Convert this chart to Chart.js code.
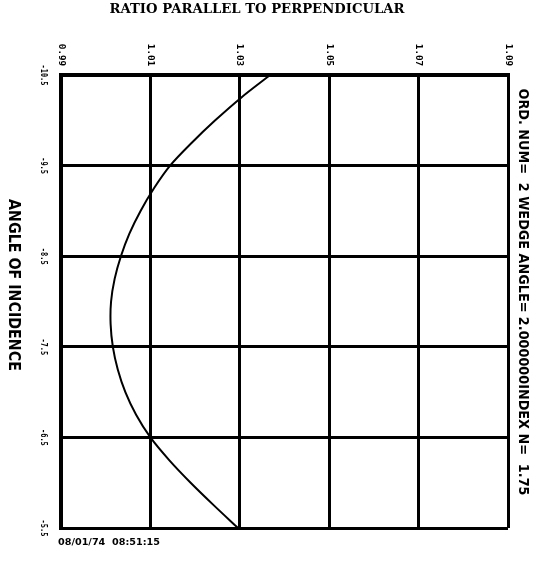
<!DOCTYPE html>
<html>
<head>
<meta charset="utf-8">
<script src="https://cdn.jsdelivr.net/npm/chart.js@4.4.0/dist/chart.umd.min.js"></script>
<style>
body { margin: 0; background: #fff; }
#wrap { width: 540px; height: 561px; }
</style>
</head>
<body>
<div id="wrap"><canvas id="plot" width="540" height="561"></canvas></div>
<script>
// values (angle of incidence vs ratio)
const angles = [-10.5, -10.25, -10.0, -9.75, -9.5, -9.25, -9.0, -8.75, -8.5, -8.25, -8.0,
                -7.75, -7.5, -7.25, -7.0, -6.75, -6.5, -6.25, -6.0, -5.75, -5.5];
const ratios = [1.0368, 1.0303, 1.0245, 1.0192, 1.0144, 1.0108, 1.0078, 1.0053, 1.0034, 1.0020, 1.0012,
                1.0011, 1.0016, 1.0027, 1.0044, 1.0068, 1.0100, 1.0142, 1.0190, 1.0242, 1.0296];
const ratioTicks = [0.99, 1.01, 1.03, 1.05, 1.07, 1.09];
const angleTicks = [-10.5, -9.5, -8.5, -7.5, -6.5, -5.5];

const titleText = 'RATIO PARALLEL TO PERPENDICULAR';
const yTitle = 'ANGLE OF INCIDENCE';
const noteText = 'ORD. NUM=  2 WEDGE ANGLE= 2.000000INDEX N=  1.75';
const stampText = '08/01/74  08:51:15';

function fitText(ctx, text, x, y, rot, len, font) {
    ctx.save();
    ctx.font = font;
    const w = ctx.measureText(text).width;
    ctx.translate(x, y);
    ctx.rotate(rot);
    ctx.scale(len / w, 1);
    ctx.textAlign = 'center';
    ctx.textBaseline = 'middle';
    ctx.fillStyle = '#000';
    ctx.fillText(text, 0, 0);
    ctx.restore();
}

const textPlugin = {
    id: 'texts',
    beforeDraw(chart) {
        const ctx = chart.ctx;
        ctx.save();
        ctx.fillStyle = '#fff';
        ctx.fillRect(0, 0, chart.width, chart.height);
        ctx.restore();
    },
    afterDraw(chart) {
        const ctx = chart.ctx;
        const xs = chart.scales.x;
        const ys = chart.scales.y;
        const quarter = Math.PI / 2;

        xs.ticks.forEach(t => {
            const label = t.value.toFixed(2);
            fitText(ctx, label, xs.getPixelForValue(t.value), 55, quarter, label.length * 5.6, 'bold 9px "DejaVu Sans Mono"');
        });
        ys.ticks.forEach(t => {
            const label = t.value.toFixed(1);
            fitText(ctx, label, 43, ys.getPixelForValue(t.value), quarter, label.length * 4.2, 'bold 8px "DejaVu Sans Mono"');
        });

        fitText(ctx, titleText, 257, 10, 0, 295, 'bold 13px "DejaVu Serif"');
        fitText(ctx, yTitle, 13, 285, quarter, 172, 'bold 15px "DejaVu Sans"');
        fitText(ctx, noteText, 523, 292, quarter, 407, 'bold 14px "DejaVu Sans"');
        fitText(ctx, stampText, 109, 543, 0, 102, 'bold 8px "DejaVu Sans"');
    }
};

const points = angles.map((a, i) => ({ x: ratios[i], y: a }));

new Chart(document.getElementById('plot'), {
    type: 'scatter',
    data: {
        datasets: [{
            data: points,
            showLine: true,
            borderColor: '#000',
            borderWidth: 2,
            pointRadius: 0,
            tension: 0.3,
            fill: false
        }]
    },
    options: {
        responsive: false,
        animation: false,
        devicePixelRatio: 1,
        layout: { padding: { left: 61, top: 75, right: 32, bottom: 33 } },
        plugins: {
            legend: { display: false },
            tooltip: { enabled: false }
        },
        scales: {
            x: {
                type: 'linear',
                position: 'top',
                min: 0.99,
                max: 1.09,
                afterBuildTicks: s => { s.ticks = ratioTicks.map(v => ({ value: v })); },
                ticks: { display: false },
                grid: { color: '#000', lineWidth: 3, drawTicks: false },
                border: { color: '#000', width: 4 }
            },
            y: {
                type: 'linear',
                reverse: true,
                min: -10.5,
                max: -5.5,
                afterBuildTicks: s => { s.ticks = angleTicks.map(v => ({ value: v })); },
                ticks: { display: false },
                grid: { color: '#000', lineWidth: 3, drawTicks: false },
                border: { color: '#000', width: 4 }
            }
        }
    },
    plugins: [textPlugin]
});
</script>
</body>
</html>
